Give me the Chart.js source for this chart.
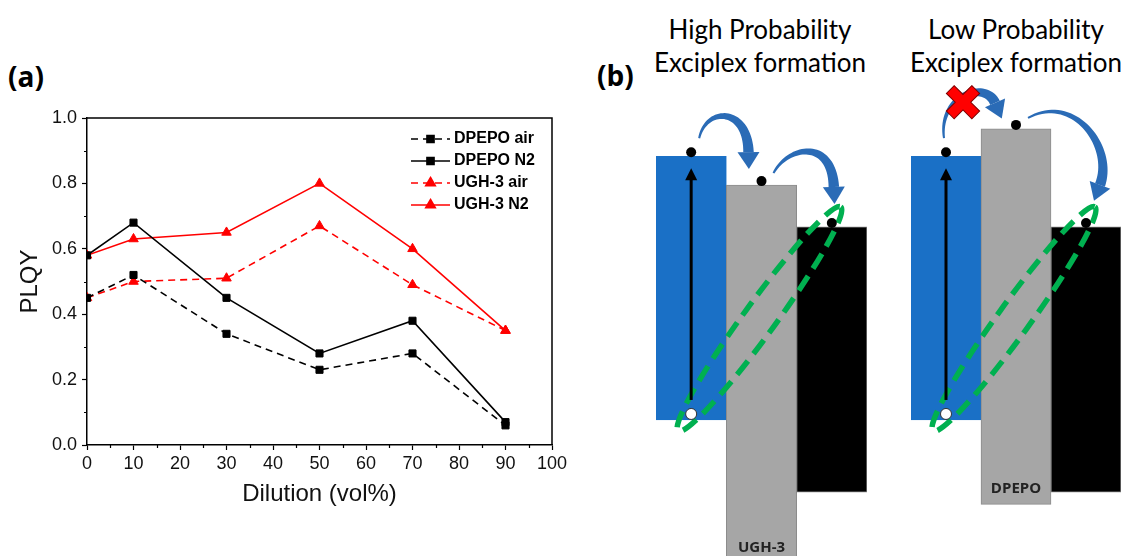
<!DOCTYPE html>
<html>
<head>
<meta charset="utf-8">
<script src="https://cdn.jsdelivr.net/npm/chart.js@4.4.1/dist/chart.umd.min.js"></script>
<style>
  body { margin: 0; background: #fff; width: 1127px; height: 556px; position: relative; overflow: hidden; }
  canvas { position: absolute; top: 0; }
  .tag { position: absolute; font: bold 28px "Open Sans", sans-serif; line-height: 32px; color: #000; }
  .head { position: absolute; width: 300px; text-align: center; font: 26px Lato, sans-serif; line-height: 33px; color: #000; }
</style>
</head>
<body>
<div class="tag" style="left:8px;top:60px">(a)</div>
<div class="tag" style="left:597px;top:59px">(b)</div>
<div class="head" id="head0" style="left:610px;top:13px"></div>
<div class="head" id="head1" style="left:866px;top:13px"></div>
<canvas id="plqy" width="600" height="556" style="left:0"></canvas>
<canvas id="lv0" width="250" height="556" style="left:640px"></canvas>
<canvas id="lv1" width="232" height="556" style="left:895px"></canvas>
<script>
// panel (a): PLQY vs dilution
const dilution = [0, 10, 30, 50, 70, 90];
const dpepoAir = [0.45, 0.52, 0.34, 0.23, 0.28, 0.06];
const dpepoN2  = [0.58, 0.68, 0.45, 0.28, 0.38, 0.07];
const ughAir   = [0.45, 0.50, 0.51, 0.67, 0.49, 0.35];
const ughN2    = [0.58, 0.63, 0.65, 0.80, 0.60, 0.35];
const seriesNames = ['DPEPO air', 'DPEPO N2', 'UGH-3 air', 'UGH-3 N2'];

// panel (b): energy levels (arbitrary eV-like units)
const levelNames = ['Emitter', 'Host', 'Acceptor'];
const emitterLevel = [-5.71, -2.24];
const acceptorLevel = [-6.66, -3.17];
const hostNames = ['UGH-3', 'DPEPO'];
const hostLevels = [[-7.6, -2.62], [-6.82, -1.88]];
const groupTitles = [['High Probability', 'Exciplex formation'], ['Low Probability', 'Exciplex formation']];

const pts = arr => dilution.map((d, i) => ({ x: d, y: arr[i] }));
const isMinorX = v => Math.round(v) % 10 !== 0;
const isMinorY = v => Math.round(v * 10) % 2 !== 0;

function series(i, arr, color, dashed, style) {
  return {
    label: seriesNames[i], data: pts(arr),
    borderColor: color, backgroundColor: color,
    pointBackgroundColor: color, pointBorderColor: color,
    borderWidth: 1.6, borderDash: dashed ? [7, 5] : [],
    pointStyle: style, pointRadius: style === 'rect' ? 5 : 5.5, pointBorderWidth: 1,
    tension: 0
  };
}

const frame = {
  id: 'frame',
  afterDraw(chart) {
    const { ctx, chartArea: a, scales: { x, y } } = chart;
    ctx.save();
    ctx.strokeStyle = '#000';
    ctx.lineWidth = 1.5;
    ctx.beginPath();
    ctx.moveTo(a.left, a.top); ctx.lineTo(a.right, a.top); ctx.lineTo(a.right, a.bottom);
    ctx.stroke();
    ctx.lineWidth = 1.2;
    ctx.beginPath();
    x.ticks.forEach(t => {
      if (!isMinorX(t.value)) return;
      const px = Math.round(x.getPixelForValue(t.value)) + 0.5;
      ctx.moveTo(px, a.bottom); ctx.lineTo(px, a.bottom + 3);
    });
    y.ticks.forEach(t => {
      if (!isMinorY(t.value)) return;
      const py = Math.round(y.getPixelForValue(t.value)) + 0.5;
      ctx.moveTo(a.left, py); ctx.lineTo(a.left - 3, py);
    });
    ctx.stroke();
    ctx.restore();
  }
};

const legendBox = {
  id: 'legendBox',
  afterDatasetsDraw(chart) {
    const { ctx, chartArea: a } = chart;
    const x0 = a.left + 324, x1 = x0 + 39;
    chart.data.datasets.forEach((ds, i) => {
      const y = a.top + 21 + i * 22;
      ctx.save();
      ctx.strokeStyle = ds.borderColor;
      ctx.lineWidth = ds.borderWidth;
      ctx.setLineDash(ds.borderDash);
      ctx.beginPath(); ctx.moveTo(x0, y); ctx.lineTo(x1, y); ctx.stroke();
      ctx.setLineDash([]);
      ctx.fillStyle = ds.pointBackgroundColor;
      Chart.helpers.drawPoint(ctx, { pointStyle: ds.pointStyle, radius: ds.pointRadius, borderWidth: 1, rotation: 0 }, (x0 + x1) / 2, y);
      ctx.fillStyle = '#000';
      ctx.font = 'bold 16px "Liberation Sans", Arial, sans-serif';
      ctx.textBaseline = 'middle';
      ctx.fillText(ds.label, x1 + 4, y);
      ctx.restore();
    });
  }
};

const axisFont = { family: '"Liberation Sans", Arial, sans-serif', size: 18 };
const titleFont = { family: '"Liberation Sans", Arial, sans-serif', size: 24, lineHeight: 1.2 };

new Chart(document.getElementById('plqy'), {
  type: 'line',
  data: {
    datasets: [
      series(0, dpepoAir, '#000000', true, 'rect'),
      series(1, dpepoN2, '#000000', false, 'rect'),
      series(2, ughAir, '#ff0000', true, 'triangle'),
      series(3, ughN2, '#ff0000', false, 'triangle')
    ]
  },
  options: {
    responsive: false, animation: false,
    layout: { padding: { left: 16, top: 118, right: 48, bottom: 47 } },
    plugins: { legend: { display: false }, tooltip: { enabled: false } },
    scales: {
      x: {
        type: 'linear', min: 0, max: 100,
        afterFit: s => { s.height = 64; },
        ticks: { stepSize: 5, autoSkip: false, maxRotation: 0, padding: 3, color: '#111', font: axisFont,
                 callback: v => isMinorX(v) ? '' : v },
        grid: { drawOnChartArea: false, tickLength: 5, tickWidth: 1.2,
                tickColor: c => isMinorX(c.tick.value) ? 'rgba(0,0,0,0)' : '#000' },
        border: { color: '#000', width: 1.5 },
        title: { display: true, text: 'Dilution (vol%)', color: '#111', font: titleFont, padding: 0 }
      },
      y: {
        min: 0, max: 1,
        afterFit: s => { s.width = 71; },
        ticks: { stepSize: 0.1, autoSkip: false, padding: 5, color: '#111', font: axisFont,
                 callback: v => isMinorY(v) ? '' : v.toFixed(1) },
        grid: { drawOnChartArea: false, tickLength: 5, tickWidth: 1.2,
                tickColor: c => isMinorY(c.tick.value) ? 'rgba(0,0,0,0)' : '#000' },
        border: { color: '#000', width: 1.5 },
        title: { display: true, text: 'PLQY', color: '#111', font: titleFont, padding: 0 }
      }
    }
  },
  plugins: [frame, legendBox]
});

// ---- panel (b) ----
function bezier(p0, p1, p2, p3, t) {
  const u = 1 - t;
  return [
    u*u*u*p0[0] + 3*u*u*t*p1[0] + 3*u*t*t*p2[0] + t*t*t*p3[0],
    u*u*u*p0[1] + 3*u*u*t*p1[1] + 3*u*t*t*p2[1] + t*t*t*p3[1]
  ];
}

function curvedArrow(ctx, p0, p1, p2, p3) {
  const n = 40, left = [], right = [];
  for (let i = 0; i <= n; i++) {
    const t = i / n;
    const p = bezier(p0, p1, p2, p3, t);
    const q = bezier(p0, p1, p2, p3, Math.min(1, t + 0.01));
    const r = bezier(p0, p1, p2, p3, Math.max(0, t - 0.01));
    let dx = q[0] - r[0], dy = q[1] - r[1];
    const len = Math.hypot(dx, dy) || 1;
    dx /= len; dy /= len;
    const w = (2 + 8.5 * t) / 2;
    left.push([p[0] - dy * w, p[1] + dx * w]);
    right.push([p[0] + dy * w, p[1] - dx * w]);
  }
  ctx.fillStyle = '#2a6bb6';
  ctx.beginPath();
  left.forEach((p, i) => i ? ctx.lineTo(p[0], p[1]) : ctx.moveTo(p[0], p[1]));
  right.reverse().forEach(p => ctx.lineTo(p[0], p[1]));
  ctx.closePath();
  ctx.fill();
  // head
  let dx = p3[0] - p2[0], dy = p3[1] - p2[1];
  const len = Math.hypot(dx, dy) || 1;
  dx /= len; dy /= len;
  const hl = 17, hw = 11;
  ctx.beginPath();
  ctx.moveTo(p3[0] + dx * hl, p3[1] + dy * hl);
  ctx.lineTo(p3[0] - dy * hw, p3[1] + dx * hw);
  ctx.lineTo(p3[0] + dy * hw, p3[1] - dx * hw);
  ctx.closePath();
  ctx.fill();
}

const off = (p, dx, dy) => [p[0] + dx, p[1] + dy];
const barTop = b => Math.min(b.y, b.base);
const barBottom = b => Math.max(b.y, b.base);

const diagram = {
  id: 'diagram',
  afterDatasetsDraw(chart, args, opts) {
    const { ctx } = chart;
    const [blue, host, acc] = chart.getDatasetMeta(0).data;
    const A = [blue.x, barTop(blue) - 4], B = [host.x, barTop(host) - 4], C = [acc.x, barTop(acc) - 4];
    const H = [blue.x, barBottom(blue) - 6];
    ctx.save();

    // exciplex ellipse
    const e0 = off(H, -13, 17), e1 = off(C, 9, -16);
    ctx.strokeStyle = '#00b050';
    ctx.lineWidth = 5.5;
    ctx.setLineDash([17, 9]);
    ctx.beginPath();
    ctx.ellipse((e0[0] + e1[0]) / 2, (e0[1] + e1[1]) / 2, Math.hypot(e1[0] - e0[0], e1[1] - e0[1]) / 2, 16,
                Math.atan2(e1[1] - e0[1], e1[0] - e0[0]), 0, Math.PI * 2);
    ctx.stroke();
    ctx.setLineDash([]);

    // excitation arrow
    ctx.strokeStyle = '#000';
    ctx.fillStyle = '#000';
    ctx.lineWidth = 3;
    ctx.beginPath();
    ctx.moveTo(H[0], H[1] - 14); ctx.lineTo(H[0], A[1] + 26);
    ctx.stroke();
    ctx.beginPath();
    ctx.moveTo(A[0], A[1] + 16); ctx.lineTo(A[0] - 6, A[1] + 28); ctx.lineTo(A[0] + 6, A[1] + 28);
    ctx.closePath(); ctx.fill();

    // electrons and hole
    [A, B, C].forEach(p => { ctx.beginPath(); ctx.arc(p[0], p[1], 5, 0, Math.PI * 2); ctx.fill(); });
    ctx.fillStyle = '#fff';
    ctx.strokeStyle = '#333';
    ctx.lineWidth = 1;
    ctx.beginPath(); ctx.arc(H[0], H[1], 5.5, 0, Math.PI * 2); ctx.fill(); ctx.stroke();

    // transfer arrows
    if (opts.group === 0) {
      curvedArrow(ctx, off(A, 8, -14), off(A, 15, -46), off(B, -14, -74), off(B, -13, -29));
      curvedArrow(ctx, off(B, 12, -8), off(B, 26, -35), off(C, 0, -85), off(C, 2, -36));
    } else {
      curvedArrow(ctx, off(A, -2, -14), off(A, -8, -57), off(B, -31, -45), off(B, -21, -22));
      curvedArrow(ctx, off(B, 12, -7), off(B, 59, -32), off(C, 28, -75), off(C, 14, -38));
      // blocked transfer
      const X = off(A, 17, -50);
      ctx.save();
      ctx.translate(X[0], X[1]);
      ctx.rotate(Math.PI / 4);
      ctx.fillStyle = '#ff0000';
      ctx.strokeStyle = '#7a0000';
      ctx.lineWidth = 1;
      ctx.beginPath();
      const L = 18, W = 5.5;
      ctx.moveTo(-W, -L); ctx.lineTo(W, -L); ctx.lineTo(W, -W); ctx.lineTo(L, -W); ctx.lineTo(L, W);
      ctx.lineTo(W, W); ctx.lineTo(W, L); ctx.lineTo(-W, L); ctx.lineTo(-W, W); ctx.lineTo(-L, W);
      ctx.lineTo(-L, -W); ctx.lineTo(-W, -W); ctx.closePath();
      ctx.fill(); ctx.stroke();
      ctx.restore();
    }

    // host label
    ctx.fillStyle = '#222';
    ctx.font = 'bold 15px "Open Sans", sans-serif';
    ctx.textAlign = 'center';
    ctx.textBaseline = 'middle';
    ctx.fillText(hostNames[opts.group], host.x, barBottom(host) - 16);
    ctx.restore();
  }
};

function levelChart(id, g, padLeft, padRight) {
  document.getElementById('head' + g).innerHTML = groupTitles[g].join('<br>');
  return new Chart(document.getElementById(id), {
    type: 'bar',
    data: {
      labels: levelNames,
      datasets: [{
        data: [emitterLevel, hostLevels[g], acceptorLevel],
        backgroundColor: ['#1a70c6', '#a6a6a6', '#000000'],
        borderColor: ['#1a70c6', '#8c8c8c', '#808080'],
        borderWidth: 1, borderSkipped: false,
        categoryPercentage: 1, barPercentage: 1
      }]
    },
    options: {
      responsive: false, animation: false,
      layout: { padding: { left: padLeft, right: padRight, top: 100, bottom: 0 } },
      plugins: { legend: { display: false }, tooltip: { enabled: false }, diagram: { group: g } },
      scales: { x: { display: false }, y: { display: false, min: -7.5, max: -1.5 } }
    },
    plugins: [diagram]
  });
}

levelChart('lv0', 0, 16, 23);
levelChart('lv1', 1, 16, 6);
</script>
</body>
</html>
